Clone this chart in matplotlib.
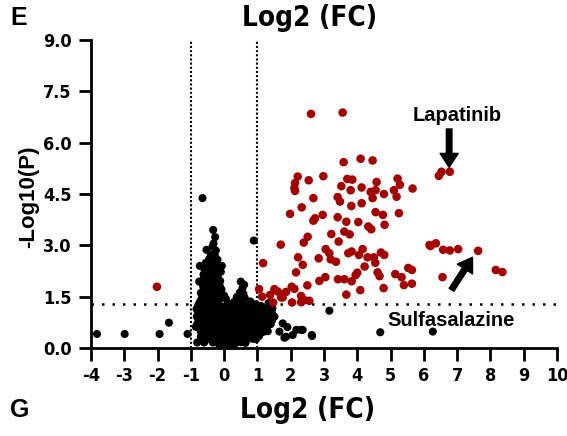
import matplotlib
matplotlib.use('Agg')
import matplotlib.pyplot as plt
from matplotlib import font_manager

# Volcano plot: Log2 fold change vs -Log10(P)

# Significant (red) compounds
red_x = [2.61, 3.56, 3.59, 4.10, 4.46, 2.21, 2.54, 2.98, 2.13, 2.11, 2.13, 3.70, 3.85, 3.52,
         3.80, 4.13, 4.58, 4.40, 4.55, 5.21, 5.28, 5.10, 4.80, 5.66, 2.68, 3.41, 3.48, 3.82,
         4.13, 4.46, 5.18, 2.33, 1.98, 2.68, 2.73, 2.96, 3.41, 3.67, 4.55, 4.77, 4.82, 5.25,
         4.03, 4.33, 4.42, 3.22, 3.61, 3.77, 3.44, 2.51, 2.39, 1.70, 3.05, 3.16, 3.20, 3.36,
         3.73, 3.83, 4.05, 4.16, 4.31, 4.50, 4.54, 4.71, 4.81, 2.22, 2.36, 2.84, 1.17, 2.16,
         2.86, 3.04, 3.42, 3.61, 3.83, 3.95, 4.00, 4.22, 4.61, 4.67, 5.14, 5.53, 5.64, 5.33,
         5.40, 5.64, 4.79, 4.09, 3.67, 2.50, 2.03, 2.11, 1.05, 1.14, 1.51, 1.61, 1.38, 1.76,
         1.86, 1.71, 2.31, 2.41, 2.56, 2.04, 2.31, 1.47, 6.17, 6.45, 6.53, 6.78, 6.20, 6.36,
         6.58, 6.78, 7.03, 7.63, 8.16, 8.36, 6.56, -2.02]
red_y = [6.84, 6.88, 5.43, 5.53, 5.48, 5.01, 4.90, 5.02, 4.82, 4.67, 4.59, 4.94, 4.92, 4.73,
         4.61, 4.69, 4.85, 4.56, 4.61, 4.95, 4.77, 4.61, 4.50, 4.66, 4.38, 4.41, 4.28, 4.15,
         4.23, 4.38, 4.42, 4.11, 3.92, 3.72, 3.79, 3.89, 3.82, 3.69, 3.97, 3.89, 3.60, 3.94,
         3.68, 3.55, 3.47, 3.33, 3.40, 3.32, 3.11, 3.25, 3.08, 3.02, 2.89, 2.77, 2.59, 2.52,
         2.77, 2.82, 2.72, 2.89, 2.65, 2.65, 2.49, 2.79, 2.72, 2.65, 2.43, 2.62, 2.48, 2.21,
         1.96, 2.07, 2.01, 2.01, 1.95, 2.13, 2.20, 2.38, 2.21, 2.10, 2.16, 2.34, 2.28, 2.07,
         1.84, 1.88, 1.75, 1.69, 1.56, 1.83, 1.79, 1.73, 1.72, 1.50, 1.72, 1.65, 1.55, 1.48,
         1.64, 1.48, 1.52, 1.40, 1.38, 1.33, 1.34, 1.33, 3.01, 5.03, 5.15, 5.15, 2.98, 3.06,
         2.87, 2.85, 2.89, 2.84, 2.28, 2.22, 2.07, 1.79]

# Non-significant (black) compounds: the column above the cut-off
black_col_x = [-0.65, -0.33, -0.27, -0.32, -0.35, -0.53, -0.25, -0.40, -0.28, -0.45, -0.20,
               -0.33, -0.22, -0.38, -0.55, -0.73, -0.07, -0.47, -0.31, -0.18, -0.60, -0.56,
               -0.42, -0.10, -0.41, -0.25, -0.62, -0.19, -0.50, -0.33, -0.49, -0.29, -0.12,
               -0.66, -0.75, -0.40, -0.20, -0.56, -0.46, -0.13, -0.30, -0.63, -0.26, -0.61,
               -0.44, -0.08, -0.39, -0.09, -0.53, -0.22, -0.70, -0.56, -0.21, -0.36, 0.00,
               -0.67, -0.45, -0.28, -0.12, 0.05, -0.71, -0.36, -0.54, -0.18,
               0.50, 0.55, 0.60, 0.47, 0.58, 0.38, 0.62, 0.29, 0.79, 0.45, 0.12, 0.95, 0.89]
black_col_y = [4.38, 3.45, 3.24, 3.05, 2.96, 2.87, 2.85, 2.72, 2.70, 2.60, 2.58,
               2.62, 2.48, 2.47, 2.49, 2.40, 2.40, 2.38, 2.31, 2.30, 2.32, 2.22,
               2.21, 2.23, 2.14, 2.13, 2.15, 2.06, 2.05, 2.07, 1.97, 1.98, 1.96,
               1.97, 1.94, 1.88, 1.87, 1.89, 1.80, 1.81, 1.79, 1.80, 1.71, 1.72,
               1.70, 1.71, 1.62, 1.61, 1.63, 1.62, 1.61, 1.53, 1.52, 1.54, 1.53,
               1.45, 1.44, 1.46, 1.45, 1.44, 1.38, 1.37, 1.39, 1.38,
               1.94, 1.75, 1.85, 1.62, 1.58, 1.49, 1.46, 1.34, 1.36, 1.38, 1.30, 1.28, 3.14]

# Non-significant (black) compounds: the dense band below the cut-off
black_band_x = [-0.78, -0.60, -0.43, -0.26, -0.09, 0.08, 0.25, 0.42, 0.59, 0.76, 0.93, 1.10,
                -0.83, -0.66, -0.49, -0.32, -0.15, 0.02, 0.19, 0.36, 0.53, 0.70, 0.87, 1.04, 1.21, 1.38,
                -0.78, -0.61, -0.44, -0.27, -0.10, 0.07, 0.24, 0.41, 0.58, 0.75, 0.92, 1.09, 1.26, 1.43,
                -0.82, -0.65, -0.48, -0.31, -0.14, 0.03, 0.20, 0.37, 0.54, 0.71, 0.88, 1.05, 1.22, 1.39,
                -0.77, -0.60, -0.43, -0.26, -0.09, 0.08, 0.25, 0.42, 0.59, 0.76, 0.93, 1.10, 1.27, 1.44,
                -0.81, -0.64, -0.47, -0.30, -0.13, 0.04, 0.21, 0.38, 0.55, 0.72, 0.89, 1.06, 1.23, 1.40,
                -0.76, -0.59, -0.42, -0.25, -0.08, 0.09, 0.26, 0.43, 0.60, 0.77, 0.94, 1.11, 1.28,
                -0.70, -0.53, -0.36, -0.19, -0.02, 0.15, 0.32, 0.49, 0.66, 0.83, 1.00, 1.17, 1.31,
                -0.60, -0.43, -0.26, -0.09, 0.08, 0.25, 0.42, 0.59, 0.76, 0.93, 1.05,
                -0.50, -0.33, -0.16, 0.01, 0.18, 0.35, 0.52, 0.69, 0.86, 0.96,
                -0.34, -0.17, 0.00, 0.17, 0.34, 0.51, 0.64,
                -0.14, 0.01, 0.14, 0.24]
black_band_y = [1.24, 1.23, 1.25, 1.24, 1.22, 1.25, 1.24, 1.23, 1.25, 1.24, 1.22, 1.23,
                1.14, 1.13, 1.15, 1.14, 1.12, 1.15, 1.14, 1.13, 1.15, 1.14, 1.12, 1.13, 1.15, 1.14,
                1.03, 1.02, 1.04, 1.03, 1.01, 1.04, 1.03, 1.02, 1.04, 1.03, 1.01, 1.02, 1.04, 1.03,
                0.92, 0.91, 0.93, 0.92, 0.90, 0.93, 0.92, 0.91, 0.93, 0.92, 0.90, 0.91, 0.93, 0.92,
                0.81, 0.80, 0.82, 0.81, 0.79, 0.82, 0.81, 0.80, 0.82, 0.81, 0.79, 0.80, 0.82, 0.81,
                0.70, 0.69, 0.71, 0.70, 0.68, 0.71, 0.70, 0.69, 0.71, 0.70, 0.68, 0.69, 0.71, 0.70,
                0.59, 0.58, 0.60, 0.59, 0.57, 0.60, 0.59, 0.58, 0.60, 0.59, 0.57, 0.58, 0.60,
                0.48, 0.47, 0.49, 0.48, 0.46, 0.49, 0.48, 0.47, 0.49, 0.48, 0.46, 0.47, 0.49,
                0.37, 0.36, 0.38, 0.37, 0.35, 0.38, 0.37, 0.36, 0.38, 0.37, 0.35,
                0.26, 0.25, 0.27, 0.26, 0.24, 0.27, 0.26, 0.25, 0.27, 0.26,
                0.16, 0.15, 0.17, 0.16, 0.14, 0.17, 0.15,
                0.07, 0.06, 0.08, 0.07]

# Non-significant (black) compounds: scattered outliers
black_out_x = [3.16, 4.69, 6.27, 2.36, 2.63, 2.31, 2.06, 1.86, 1.66, 1.76, 1.51, 1.45, 1.33,
               1.15, 2.17, 1.90, 1.81, 2.64,
               -3.82, -2.99, -1.94, -1.66, -1.10, -0.85, -0.81, -0.60, -0.70, -0.75]
black_out_y = [1.09, 0.46, 0.48, 0.53, 0.38, 0.53, 0.38, 0.33, 0.48, 0.72, 0.92, 1.16, 1.31,
               1.01, 0.53, 0.61, 0.30, 0.35,
               0.41, 0.41, 0.41, 0.74, 0.41, 0.62, 0.16, 0.16, 0.33, 1.31]

black_x = black_col_x + black_band_x + black_out_x
black_y = black_col_y + black_band_y + black_out_y

x_ticks = [-4, -3, -2, -1, 0, 1, 2, 3, 4, 5, 6, 7, 8, 9, 10]
y_ticks = [0.0, 1.5, 3.0, 4.5, 6.0, 7.5, 9.0]

names = {f.name for f in font_manager.fontManager.ttflist}
narrow = 'Liberation Sans Narrow' if 'Liberation Sans Narrow' in names else 'DejaVu Sans'
plain = 'Liberation Sans' if 'Liberation Sans' in names else 'DejaVu Sans'

plt.rcParams['axes.unicode_minus'] = False

fig = plt.figure(figsize=(5.67, 4.36), dpi=100)
ax = fig.add_axes([0.1605, 0.2018, 0.8219, 0.7065])

ax.scatter(black_x, black_y, s=34, color='black', edgecolors='none', zorder=3, clip_on=False)
ax.scatter(red_x, red_y, s=38, color='#a30000', edgecolors='none', zorder=3, clip_on=False)

# cut-off lines
ax.axvline(-1, color='black', lw=1.5, ls=(0, (1, 1)), zorder=2)
ax.axvline(1, color='black', lw=1.5, ls=(0, (1, 1)), zorder=2)
ax.axhline(1.3, color='black', lw=1.8, ls=(0, (1, 3.2)), zorder=2)

ax.set_xlim(-4, 10)
ax.set_ylim(0, 9)
ax.set_xticks(x_ticks)
ax.set_yticks(y_ticks)
ax.set_xticklabels([str(t) for t in x_ticks])
ax.set_yticklabels([f'{t:.1f}' for t in y_ticks])

for s in ['top', 'right']:
    ax.spines[s].set_visible(False)
for s in ['left', 'bottom']:
    ax.spines[s].set_linewidth(2)
ax.tick_params(direction='out', length=9, width=2, pad=5)
for lab in ax.get_xticklabels() + ax.get_yticklabels():
    lab.set_fontfamily(narrow)
    lab.set_fontweight('bold')
    lab.set_fontstretch('condensed')
    lab.set_fontsize(13)

ax.set_ylabel('-Log10(P)', fontfamily=plain, fontweight='bold', fontsize=16)
ax.yaxis.set_label_coords(-0.112, 0.49)

# annotations
ax.annotate('', xy=(6.76, 5.28), xytext=(6.76, 6.40),
            arrowprops=dict(facecolor='black', edgecolor='black', width=4, headwidth=13,
                            headlength=10, shrink=0))
ax.text(6.99, 6.78, 'Lapatinib', fontfamily=plain, fontweight='bold', fontsize=14.5,
        ha='center', va='center')
ax.annotate('', xy=(7.46, 2.65), xytext=(6.83, 1.70),
            arrowprops=dict(facecolor='black', edgecolor='black', width=4, headwidth=13,
                            headlength=10, shrink=0))
ax.text(6.83, 0.79, 'Sulfasalazine', fontfamily=plain, fontweight='bold', fontsize=14.5,
        ha='center', va='center')

# titles and panel letters
fig.text(310 / 567, 1 - 18 / 436, 'Log2 (FC)', fontfamily=narrow, fontweight='bold',
         fontstretch='condensed', fontsize=20, ha='center', va='center')
fig.text(308 / 567, 1 - 410 / 436, 'Log2 (FC)', fontfamily=narrow, fontweight='bold',
         fontstretch='condensed', fontsize=20, ha='center', va='center')
fig.text(10 / 567, 1 - 18 / 436, 'E', fontfamily=plain, fontweight='bold', fontsize=18,
         ha='left', va='center')
fig.text(10 / 567, 1 - 410 / 436, 'G', fontfamily=plain, fontweight='bold', fontsize=18,
         ha='left', va='center')

fig.savefig('out.png', dpi=100)
